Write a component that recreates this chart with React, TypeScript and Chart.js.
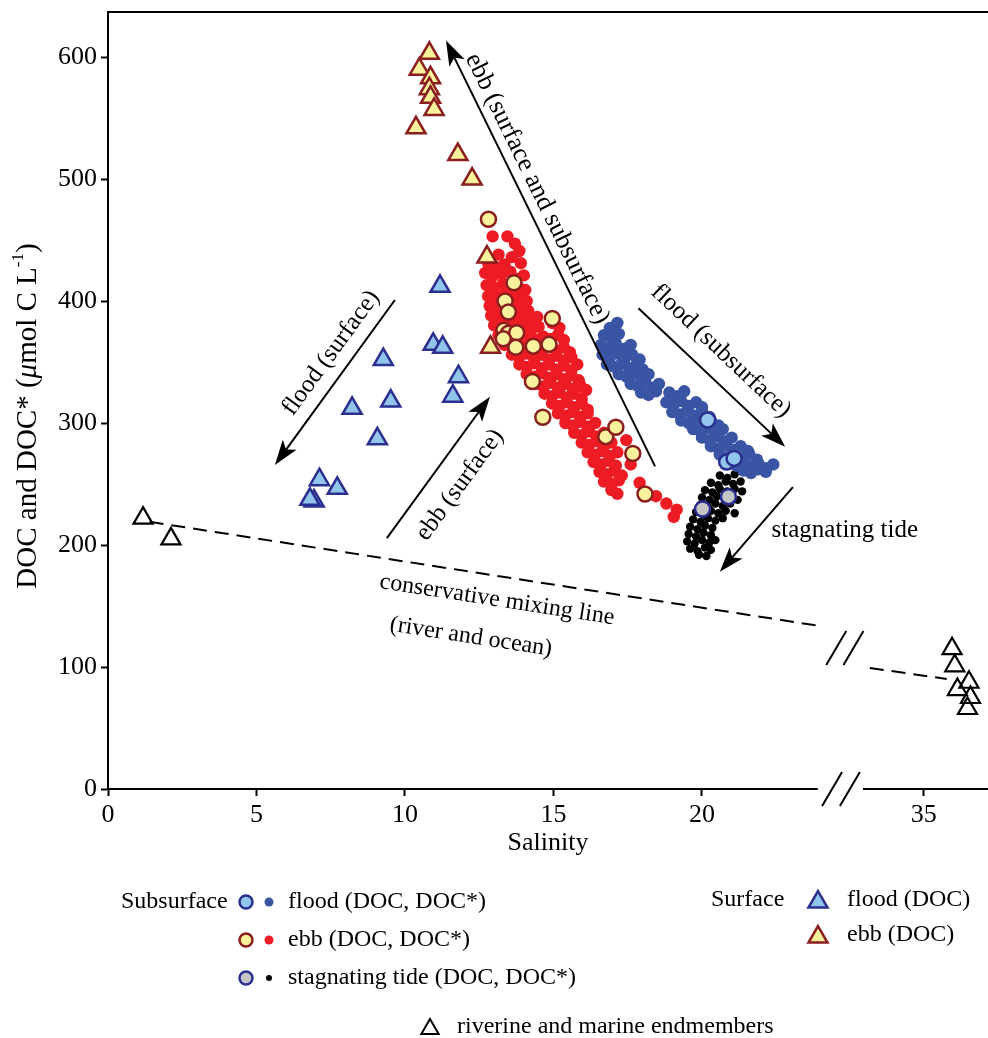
import { useEffect, useRef } from 'react';
import { Chart, registerables } from 'chart.js';

Chart.register(...registerables);

type P = [number, number];

const SERIF = '"Liberation Serif", "Times New Roman", serif';

// Broken salinity axis: values above BREAK_AT are shifted left by BREAK_SHIFT
const BREAK_AT = 28;
const BREAK_SHIFT = 7.53;
const toU = (s: number) => (s > BREAK_AT ? s - BREAK_SHIFT : s);

const xTickValues = [0, 5, 10, 15, 20, 35];
const xTickLabels = ['0', '5', '10', '15', '20', '35'];
const yTickValues = [0, 100, 200, 300, 400, 500, 600];
const yTickLabels = ['0', '100', '200', '300', '400', '500', '600'];
const X_MAX_U = 29.63;
const Y_MAX = 636.9;

// Subsurface ebb, DOC* (small red dots) [salinity, µmol C/L]
const ebbDocStar: P[] = [
  [12.95, 453], [13.45, 453], [13.7, 447], [13.85, 441], [13.15, 438], [13.6, 436], [13.9, 431], [12.8, 431],
  [13.05, 428], [13.35, 430], [14.0, 421], [12.7, 423], [12.95, 420], [13.25, 422], [13.55, 424], [13.75, 418],
  [12.75, 413], [13.0, 411], [13.3, 414], [13.55, 410], [13.8, 412], [14.05, 409],
  [12.8, 404], [13.05, 402], [13.3, 405], [13.6, 401], [13.85, 404], [14.1, 400],
  [12.85, 396], [13.1, 394], [13.4, 397], [13.65, 393], [13.9, 396], [14.15, 392],
  [12.9, 388], [13.2, 386], [13.45, 389], [13.7, 385], [13.95, 388], [14.2, 384], [14.45, 387],
  [13.0, 380], [13.25, 378], [13.5, 381], [13.75, 377], [14.0, 380], [14.25, 376], [14.5, 379], [14.95, 382], [15.2, 378],
  [13.15, 372], [13.4, 370], [13.65, 373], [13.9, 369], [14.15, 372], [14.4, 368], [14.65, 371], [14.9, 369], [15.15, 372], [15.35, 368],
  [13.35, 364], [13.6, 362], [13.85, 365], [14.1, 361], [14.35, 364], [14.6, 360], [14.85, 363], [15.1, 359], [15.35, 362], [15.55, 358], [15.8, 348],
  [13.6, 356], [13.85, 354], [14.1, 357], [14.35, 353], [14.6, 356], [14.85, 352], [15.1, 355], [15.35, 351], [15.6, 354],
  [13.85, 348], [14.1, 346], [14.35, 349], [14.6, 345], [14.85, 348], [15.1, 344], [15.35, 347], [15.6, 343],
  [14.1, 340], [14.35, 338], [14.6, 341], [14.85, 337], [15.1, 340], [15.35, 336], [15.6, 339], [15.85, 335],
  [14.4, 332], [14.65, 330], [14.9, 333], [15.15, 329], [15.4, 332], [15.65, 328], [15.9, 331], [16.1, 327],
  [14.7, 324], [14.95, 322], [15.2, 325], [15.45, 321], [15.7, 324], [15.95, 320],
  [14.95, 316], [15.2, 314], [15.45, 317], [15.7, 313], [15.95, 316], [16.15, 311],
  [15.15, 308], [15.4, 306], [15.65, 309], [15.9, 305], [16.15, 308],
  [15.4, 300], [15.65, 298], [15.9, 301], [16.15, 297], [16.4, 300],
  [15.7, 292], [15.95, 290], [16.2, 293], [16.45, 289], [16.7, 292],
  [15.95, 284], [16.2, 282], [16.45, 285], [16.7, 281], [16.95, 284], [17.45, 286],
  [16.15, 276], [16.4, 274], [16.65, 277], [16.9, 273], [17.15, 276],
  [16.35, 268], [16.6, 266], [16.85, 269], [17.1, 265], [17.6, 266],
  [16.55, 260], [16.8, 258], [17.05, 261], [17.3, 257],
  [16.7, 252], [16.95, 250], [17.2, 253], [17.9, 251],
  [16.95, 245], [17.15, 242],
  [18.45, 240], [18.8, 234], [19.15, 229], [19.05, 223],
];

// Subsurface flood, DOC* (small blue dots)
const floodDocStar: P[] = [
  [17.15, 382], [16.9, 378],
  [16.7, 372], [16.95, 370], [17.2, 373],
  [16.6, 364], [16.85, 362], [17.1, 365], [17.4, 361], [17.6, 364],
  [16.65, 356], [16.9, 354], [17.15, 357], [17.4, 353], [17.65, 356], [17.9, 352],
  [16.8, 348], [17.05, 346], [17.3, 349], [17.55, 345], [17.8, 348], [18.0, 344],
  [17.2, 340], [17.45, 338], [17.7, 341], [17.95, 337], [18.2, 340],
  [17.6, 332], [17.85, 330], [18.1, 333], [18.35, 329], [18.55, 332],
  [17.95, 325], [18.2, 323], [18.45, 326], [18.9, 325], [19.15, 322], [19.4, 326],
  [18.8, 317], [19.05, 315], [19.3, 318], [19.55, 314], [19.8, 317], [20.0, 313],
  [19.0, 309], [19.25, 307], [19.5, 310], [19.75, 306], [20.0, 309], [20.25, 305],
  [19.3, 302], [19.55, 300], [19.8, 303], [20.05, 299], [20.3, 302], [20.55, 298],
  [19.7, 295], [19.95, 293], [20.2, 296], [20.45, 292], [20.7, 295],
  [20.0, 288], [20.25, 286], [20.5, 289], [20.75, 285], [21.0, 288],
  [20.3, 281], [20.55, 279], [20.8, 282], [21.05, 278], [21.3, 281], [21.55, 277],
  [20.6, 274], [20.85, 272], [21.1, 275], [21.35, 271], [21.6, 274], [21.85, 270],
  [20.9, 267], [21.15, 265], [21.4, 268], [21.65, 264], [21.9, 267], [22.15, 263], [22.4, 266],
  [21.4, 261], [21.65, 259], [21.9, 262], [22.15, 260],
];

// Subsurface stagnating tide, DOC* (small black dots)
const stagDocStar: P[] = [
  [20.6, 257], [20.85, 255], [21.1, 258],
  [20.3, 251], [20.55, 249], [20.8, 252], [21.05, 250], [21.3, 252],
  [20.1, 245], [20.35, 243], [20.6, 246], [20.85, 244], [21.1, 246], [21.35, 244],
  [20.0, 239], [20.25, 237], [20.5, 240], [20.75, 238], [21.0, 240], [21.2, 237],
  [19.95, 233], [20.2, 231], [20.45, 234], [20.7, 232], [20.95, 234],
  [19.8, 227], [20.05, 225], [20.3, 228], [20.55, 226], [20.8, 228], [21.1, 226],
  [19.7, 221], [19.95, 219], [20.2, 222], [20.45, 220], [20.7, 222],
  [19.6, 215], [19.85, 213], [20.1, 216], [20.35, 214],
  [19.55, 209], [19.8, 207], [20.05, 210], [20.3, 208],
  [19.5, 203], [19.75, 201], [20.0, 204], [20.25, 202], [20.45, 204],
  [19.6, 197], [19.85, 195], [20.1, 198], [20.3, 196],
  [19.9, 192], [20.15, 191],
];

// Subsurface DOC (large circles)
const floodDoc: P[] = [[20.19, 302.5], [20.83, 268], [21.08, 271]];
const stagDoc: P[] = [[20.02, 229.5], [20.89, 239.6]];
const ebbDoc: P[] = [
  [12.81, 467], [13.67, 415], [13.37, 400], [13.48, 391], [13.33, 376], [13.48, 373.5], [13.76, 374],
  [13.31, 369], [13.73, 362], [14.32, 363], [14.85, 364.5], [14.96, 385.7], [14.29, 334], [14.64, 304.7],
  [16.76, 288.8], [17.1, 296.5], [17.67, 275], [18.08, 241.8],
];

// Surface DOC (triangles)
const surfFloodDoc: P[] = [
  [11.18, 412], [10.95, 364.5], [11.27, 362], [11.8, 338], [11.61, 322], [9.27, 352], [9.52, 318],
  [8.22, 312], [9.07, 287], [7.12, 253.5], [7.72, 246.5], [6.94, 236], [6.8, 237.5],
];
const surfEbbDoc: P[] = [
  [10.82, 603], [10.48, 590], [10.86, 583], [10.82, 574], [10.86, 567], [10.98, 557], [10.37, 542],
  [11.78, 520], [12.26, 500], [12.76, 436], [12.88, 362],
];

// Riverine and marine endmembers
const endmembers: P[] = [
  [1.18, 222], [2.12, 205], [35.95, 115], [36.04, 101], [36.13, 81.5], [36.52, 87.5], [36.57, 75], [36.47, 66],
];

// Conservative mixing line (two pieces either side of the axis break)
const mixingLineRiver: P[] = [[1.4, 219], [23.97, 133.6]];
const mixingLineOcean: P[] = [[33.18, 99.2], [35.77, 90.2]];

// Annotation arrows [from, to] in data units (arrowhead at "to")
const arrowEbbAll: P[] = [[18.42, 264.5], [11.38, 613.5]];
const arrowFloodSub: P[] = [[17.86, 394], [22.8, 280.6]];
const arrowStag: P[] = [[23.06, 247.5], [20.6, 178]];
const arrowFloodSurf: P[] = [[9.66, 400.8], [5.62, 265.6]];
const arrowEbbSurf: P[] = [[9.39, 205.7], [12.86, 321.6]];

const RED = '#ed1c24';
const BLUE = '#3b55a5';
const YELLOW = '#f7f29b';
const DARKRED = '#8b1e1e';
const LIGHTBLUE = '#92c5eb';
const NAVY = '#2b2f8f';
const GRAY = '#c6c6c6';

function drawArrow(ctx: CanvasRenderingContext2D, x1: number, y1: number, x2: number, y2: number) {
  const ang = Math.atan2(y2 - y1, x2 - x1);
  const L = 25, W = 8.5, notch = 6;
  ctx.beginPath();
  ctx.moveTo(x1, y1);
  ctx.lineTo(x2 - Math.cos(ang) * (L - notch), y2 - Math.sin(ang) * (L - notch));
  ctx.stroke();
  ctx.save();
  ctx.translate(x2, y2);
  ctx.rotate(ang);
  ctx.beginPath();
  ctx.moveTo(0, 0);
  ctx.lineTo(-L, -W);
  ctx.lineTo(-L + notch, 0);
  ctx.lineTo(-L, W);
  ctx.closePath();
  ctx.fill();
  ctx.restore();
}

function tri(ctx: CanvasRenderingContext2D, x: number, y: number, r: number, fill: string | null, stroke: string, bw: number) {
  ctx.beginPath();
  for (let i = 0; i < 3; i++) {
    const a = (i * 2 * Math.PI) / 3;
    const px = x + Math.sin(a) * r;
    const py = y - Math.cos(a) * r;
    if (i === 0) ctx.moveTo(px, py);
    else ctx.lineTo(px, py);
  }
  ctx.closePath();
  if (fill) {
    ctx.fillStyle = fill;
    ctx.fill();
  }
  ctx.lineWidth = bw;
  ctx.strokeStyle = stroke;
  ctx.stroke();
}

function circ(ctx: CanvasRenderingContext2D, x: number, y: number, r: number, fill: string, stroke: string | null, bw: number) {
  ctx.beginPath();
  ctx.arc(x, y, r, 0, Math.PI * 2);
  ctx.fillStyle = fill;
  ctx.fill();
  if (stroke) {
    ctx.lineWidth = bw;
    ctx.strokeStyle = stroke;
    ctx.stroke();
  }
}

const decor = {
  id: 'decor',
  afterDraw(chart: any) {
    const ctx: CanvasRenderingContext2D = chart.ctx;
    const xs = chart.scales.x;
    const ys = chart.scales.y;
    const ca = chart.chartArea;
    const px = (s: number) => xs.getPixelForValue(toU(s));
    const py = (d: number) => ys.getPixelForValue(d);
    ctx.save();
    ctx.strokeStyle = '#000';
    ctx.fillStyle = '#000';
    ctx.lineWidth = 2;
    ctx.lineCap = 'butt';

    // top frame line
    ctx.beginPath();
    ctx.moveTo(ca.left - 1, ca.top);
    ctx.lineTo(ca.right, ca.top);
    ctx.stroke();

    // gap in x axis line + break marks
    const g1 = px(23.9), g2 = px(25.42);
    ctx.fillStyle = '#fff';
    ctx.fillRect(g1, ca.bottom - 3, g2 - g1, 6);
    ctx.fillStyle = '#000';
    const slash = (cx: number, cy: number) => {
      ctx.beginPath();
      ctx.moveTo(cx - 10, cy + 17);
      ctx.lineTo(cx + 10, cy - 17);
      ctx.stroke();
    };
    slash(px(24.38), ca.bottom);
    slash(px(24.98), ca.bottom);
    slash(px(24.52), py(115.5));
    slash(px(25.1), py(115.5));

    // arrows
    const arrows = [arrowEbbAll, arrowFloodSub, arrowStag, arrowFloodSurf, arrowEbbSurf];
    const pixArrows = arrows.map(([a, b]) => [px(a[0]), py(a[1]), px(b[0]), py(b[1])]);
    pixArrows.forEach(([x1, y1, x2, y2]) => drawArrow(ctx, x1, y1, x2, y2));

    const angleOf = (x1: number, y1: number, x2: number, y2: number) => {
      let a = Math.atan2(y2 - y1, x2 - x1);
      if (a > Math.PI / 2) a -= Math.PI;
      if (a < -Math.PI / 2) a += Math.PI;
      return a;
    };
    const rotText = (text: string, at: P, angle: number, size: number) => {
      ctx.save();
      ctx.translate(px(at[0]), py(at[1]));
      ctx.rotate(angle);
      ctx.font = `${size}px ${SERIF}`;
      ctx.textAlign = 'center';
      ctx.textBaseline = 'middle';
      ctx.fillStyle = '#000';
      ctx.fillText(text, 0, 0);
      ctx.restore();
    };
    const ang = (i: number) => {
      const [x1, y1, x2, y2] = pixArrows[i];
      return angleOf(x1, y1, x2, y2);
    };
    rotText('ebb (surface and subsurface)', [14.45, 492], ang(0), 26);
    rotText('flood (subsurface)', [20.64, 359], ang(1), 25);
    rotText('stagnating tide', [24.81, 212.3], 0, 25);
    rotText('flood (surface)', [7.51, 357.4], ang(3), 25);
    rotText('ebb (surface)', [11.85, 249.2], ang(4), 25);
    const lineAng = angleOf(px(mixingLineRiver[0][0]), py(mixingLineRiver[0][1]), px(mixingLineRiver[1][0]), py(mixingLineRiver[1][1]));
    rotText('conservative mixing line', [13.1, 155], lineAng, 24);
    rotText('(river and ocean)', [12.22, 124.6], lineAng, 24);

    // y-axis title with italic mu and superscript
    ctx.save();
    ctx.translate(28, 416);
    ctx.rotate(-Math.PI / 2);
    ctx.textBaseline = 'middle';
    ctx.textAlign = 'left';
    ctx.fillStyle = '#000';
    const fs = 29;
    const parts = [
      { t: 'DOC and DOC* (', f: `${fs}px ${SERIF}`, dy: 0 },
      { t: 'μ', f: `italic ${fs}px ${SERIF}`, dy: 0 },
      { t: 'mol C L', f: `${fs}px ${SERIF}`, dy: 0 },
      { t: '-1', f: `${Math.round(fs * 0.6)}px ${SERIF}`, dy: -9 },
      { t: ')', f: `${fs}px ${SERIF}`, dy: 0 },
    ];
    let total = 0;
    parts.forEach((p) => {
      ctx.font = p.f;
      total += ctx.measureText(p.t).width;
    });
    let cx = -total / 2;
    parts.forEach((p) => {
      ctx.font = p.f;
      ctx.fillText(p.t, cx, p.dy);
      cx += ctx.measureText(p.t).width;
    });
    ctx.restore();

    // legend
    ctx.font = `24px ${SERIF}`;
    ctx.textBaseline = 'middle';
    ctx.textAlign = 'left';
    ctx.fillStyle = '#000';
    ctx.fillText('Subsurface', 121, 902);
    const rows: [number, string, string, number, string][] = [
      [902, LIGHTBLUE, BLUE, 4.5, 'flood (DOC, DOC*)'],
      [940, YELLOW, RED, 4.5, 'ebb (DOC, DOC*)'],
      [978, GRAY, '#000', 3, 'stagnating tide (DOC, DOC*)'],
    ];
    rows.forEach(([y, fill, dot, dr, label], i) => {
      circ(ctx, 246, y, 6.5, fill, i === 1 ? DARKRED : NAVY, 2.5);
      circ(ctx, 269, y, dr, dot, null, 0);
      ctx.fillStyle = '#000';
      ctx.fillText(label, 288, y);
    });
    ctx.fillText('Surface', 711, 900);
    tri(ctx, 818, 902, 11, LIGHTBLUE, NAVY, 2.5);
    ctx.fillStyle = '#000';
    ctx.fillText('flood (DOC)', 847, 900);
    tri(ctx, 818, 937, 11, YELLOW, DARKRED, 2.5);
    ctx.fillStyle = '#000';
    ctx.fillText('ebb (DOC)', 847, 935);
    tri(ctx, 430, 1029, 10, null, '#000', 2);
    ctx.fillStyle = '#000';
    ctx.fillText('riverine and marine endmembers', 457, 1027);

    ctx.restore();
  },
};

export default function App() {
  const ref = useRef<HTMLCanvasElement>(null);
  useEffect(() => {
    const canvas = ref.current;
    if (!canvas) return;
    const pts = (a: P[]) => a.map(([s, d]) => ({ x: toU(s), y: d }));
    const tickFont = { family: SERIF, size: 26 };
    const chart = new Chart(canvas, {
      type: 'scatter',
      data: {
        datasets: [
          { label: 'mixing line (river)', data: pts(mixingLineRiver), showLine: true, pointRadius: 0, borderColor: '#000', borderWidth: 2, borderDash: [14, 8], order: 20 },
          { label: 'mixing line (ocean)', data: pts(mixingLineOcean), showLine: true, pointRadius: 0, borderColor: '#000', borderWidth: 2, borderDash: [14, 8], order: 20 },
          { label: 'stagnating tide DOC*', data: pts(stagDocStar), pointRadius: 4.2, backgroundColor: '#000', borderWidth: 0, order: 12 },
          { label: 'flood DOC*', data: pts(floodDocStar), pointRadius: 6.2, backgroundColor: BLUE, borderWidth: 0, order: 11 },
          { label: 'ebb DOC*', data: pts(ebbDocStar), pointRadius: 6.2, backgroundColor: RED, borderWidth: 0, order: 10 },
          { label: 'flood DOC', data: pts(floodDoc), pointRadius: 7.5, backgroundColor: LIGHTBLUE, borderColor: NAVY, borderWidth: 2.5, order: 8 },
          { label: 'stagnating tide DOC', data: pts(stagDoc), pointRadius: 7.5, backgroundColor: GRAY, borderColor: NAVY, borderWidth: 2.5, order: 7 },
          { label: 'ebb DOC', data: pts(ebbDoc), pointRadius: 7.5, backgroundColor: YELLOW, borderColor: DARKRED, borderWidth: 2.5, order: 6 },
          { label: 'surface flood DOC', data: pts(surfFloodDoc), pointStyle: 'triangle', pointRadius: 11, backgroundColor: LIGHTBLUE, borderColor: NAVY, borderWidth: 2.5, order: 4 },
          { label: 'surface ebb DOC', data: pts(surfEbbDoc), pointStyle: 'triangle', pointRadius: 11, backgroundColor: YELLOW, borderColor: DARKRED, borderWidth: 2.5, order: 3 },
          { label: 'endmembers', data: pts(endmembers), pointStyle: 'triangle', pointRadius: 11, backgroundColor: 'rgba(0,0,0,0)', borderColor: '#000', borderWidth: 2.2, order: 2 },
        ],
      } as any,
      options: {
        responsive: false,
        animation: false,
        events: [],
        layout: { autoPadding: false, padding: { top: 12, right: 0, left: 0, bottom: 179 } },
        plugins: { legend: { display: false }, tooltip: { enabled: false } },
        scales: {
          x: {
            type: 'linear',
            min: 0,
            max: X_MAX_U,
            afterBuildTicks: (s: any) => {
              s.ticks = xTickValues.map((v) => ({ value: toU(v) }));
            },
            afterFit: (s: any) => {
              s.height = 70;
              s.paddingLeft = 0;
              s.paddingRight = 0;
            },
            ticks: {
              autoSkip: false,
              maxRotation: 0,
              padding: 4,
              color: '#000',
              font: tickFont,
              callback: (v: any) => {
                const i = xTickValues.findIndex((t) => Math.abs(toU(t) - Number(v)) < 1e-6);
                return i >= 0 ? xTickLabels[i] : '';
              },
            },
            grid: { drawOnChartArea: false, drawTicks: true, tickLength: 7, tickWidth: 2, tickColor: '#000' },
            border: { display: true, color: '#000', width: 2 },
            title: { display: true, text: 'Salinity', color: '#000', font: { family: SERIF, size: 26 }, padding: { top: 0, bottom: 0 } },
          },
          y: {
            type: 'linear',
            min: 0,
            max: Y_MAX,
            afterBuildTicks: (s: any) => {
              s.ticks = yTickValues.map((v) => ({ value: v }));
            },
            afterFit: (s: any) => {
              s.width = 108;
              s.paddingTop = 0;
              s.paddingBottom = 0;
            },
            ticks: {
              autoSkip: false,
              padding: 4,
              color: '#000',
              font: tickFont,
              callback: (v: any) => {
                const i = yTickValues.indexOf(Number(v));
                return i >= 0 ? yTickLabels[i] : '';
              },
            },
            grid: { drawOnChartArea: false, drawTicks: true, tickLength: 7, tickWidth: 2, tickColor: '#000' },
            border: { display: true, color: '#000', width: 2 },
          },
        },
      } as any,
      plugins: [decor as any],
    });
    return () => chart.destroy();
  }, []);
  return (
    <div style={{ position: 'absolute', left: 0, top: 0, width: 988, height: 1038, background: '#fff' }}>
      <canvas ref={ref} width={988} height={1038} style={{ display: 'block' }} />
    </div>
  );
}
